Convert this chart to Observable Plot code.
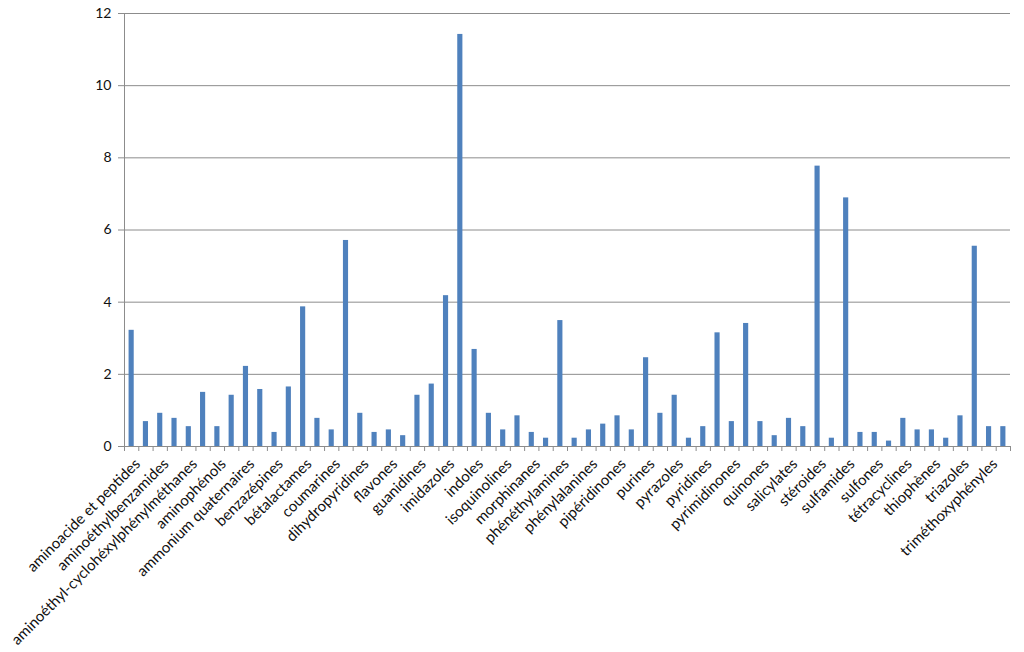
<!DOCTYPE html>
<html>
<head>
<meta charset="utf-8">
<script src="https://cdn.jsdelivr.net/npm/d3@7"></script>
<script src="https://cdn.jsdelivr.net/npm/@observablehq/plot@0.6"></script>
<style>
  html, body { margin: 0; padding: 0; background: #fff; }
  #chart svg { display: block; }
  #chart svg g[aria-label^="x-axis"] path,
  #chart svg g[aria-label^="x-axis"] line,
  #chart svg g[aria-label^="y-axis"] path,
  #chart svg g[aria-label^="y-axis"] line { stroke: #8c8c8c; }
</style>
</head>
<body>
<div id="chart"></div>
<script>
// Tick labels shown (every other category)
const tickLabels = [
  "aminoacide et peptides", "aminoéthylbenzamides", "aminoéthyl-cyclohéxylphénylméthanes",
  "aminophénols", "ammonium quaternaires", "benzazépines", "bétalactames", "coumarines",
  "dihydropyridines", "flavones", "guanidines", "imidazoles", "indoles", "isoquinolines",
  "morphinanes", "phénéthylamines", "phénylalanines", "pipéridinones", "purines", "pyrazoles",
  "pyridines", "pyrimidinones", "quinones", "salicylates", "stéroides", "sulfamides",
  "sulfones", "tétracyclines", "thiophènes", "triazoles", "triméthoxyphényles"
];

// One value per category (62 categories, in order)
const values = [
  3.22, 0.69, 0.92, 0.78, 0.55, 1.50, 0.55, 1.42, 2.22, 1.58,
  0.39, 1.65, 3.87, 0.78, 0.46, 5.71, 0.92, 0.39, 0.46, 0.30,
  1.42, 1.73, 4.18, 11.42, 2.69, 0.92, 0.46, 0.85, 0.39, 0.23,
  3.49, 0.23, 0.46, 0.62, 0.85, 0.46, 2.46, 0.92, 1.42, 0.23,
  0.55, 3.15, 0.69, 3.41, 0.69, 0.30, 0.78, 0.55, 7.77, 0.23,
  6.89, 0.39, 0.39, 0.15, 0.78, 0.46, 0.46, 0.23, 0.85, 5.55,
  0.55, 0.55
];

const yTicks = [0, 2, 4, 6, 8, 10, 12];

const data = values.map((v, i) => ({i, v}));
const n = values.length;
const gap = 0.32;

const chart = Plot.plot({
  width: 1024,
  height: 652,
  marginLeft: 124,
  marginRight: 14,
  marginTop: 13,
  marginBottom: 206,
  style: {fontFamily: "Lato, 'Open Sans', sans-serif", fontSize: "14px", color: "#111", background: "#fff"},
  x: {domain: [0, n], ticks: d3.range(0, n + 1), tickFormat: () => "", tickSize: 5, label: null},
  y: {domain: [0, 12], ticks: yTicks, tickSize: 6, tickPadding: 7, label: null, tickFormat: d3.format("d")},
  marks: [
    Plot.ruleY(yTicks.filter(d => d > 0), {stroke: "#8c8c8c", strokeWidth: 1}),
    Plot.rectY(data, {x1: d => d.i + gap, x2: d => d.i + 1 - gap, y: "v", fill: "#4F81BD"}),
    Plot.ruleY([0], {stroke: "#8c8c8c"}),
    Plot.ruleX([0], {stroke: "#8c8c8c"}),
    Plot.text(tickLabels, {
      x: (d, j) => 2 * j + 0.5,
      y: () => 0,
      text: d => d,
      rotate: -45,
      textAnchor: "end",
      dx: 6,
      dy: 15,
      fill: "#111",
      fontSize: 15
    })
  ]
});

document.getElementById("chart").appendChild(chart);
</script>
</body>
</html>
